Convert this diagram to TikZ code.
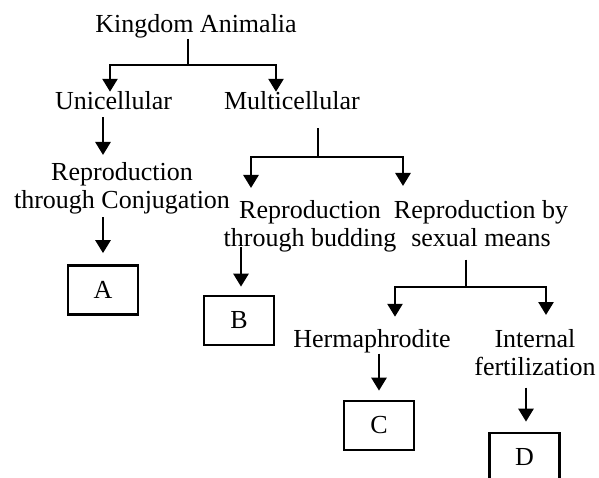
\documentclass[tikz,border=0pt]{standalone}
\usepackage{fontspec}
\setmainfont{Liberation Serif}
\usepackage{tikz}
\usetikzlibrary{positioning,arrows.meta,calc}

\begin{document}
\begin{tikzpicture}[x=1pt, y=-1pt,
  txt/.style={inner sep=0pt, align=center, font=\fontsize{26}{28}\selectfont},
  box/.style={draw, line width=2.7pt, inner sep=0pt, minimum width=70pt, minimum height=49pt, font=\fontsize{26}{28}\selectfont},
  line/.style={line width=2.7pt},
  arr/.style={line width=2.7pt, -{Triangle[length=13pt, width=15pt]}},
]
\useasboundingbox (0,0) rectangle (599,478);
\clip (0,0) rectangle (599,478);

% text nodes
\node[txt, anchor=base] (kingdom) at (196,33) {Kingdom Animalia};
\node[txt, anchor=base] (uni) at (113.5,110) {Unicellular};
\node[txt, anchor=base] (multi) at (292,110) {Multicellular};
\node[txt, anchor=north] (conj) at (122,162) {Reproduction\\through Conjugation};
\node[txt, anchor=north] (bud) at (310,200) {Reproduction\\through budding};
\node[txt, anchor=north] (sex) at (481,200) {Reproduction by\\sexual means};
\node[txt, anchor=base] (herm) at (372,347) {Hermaphrodite};
\node[txt, anchor=north] (intern) at (535,329) {Internal\\fertilization};

% boxes
\node[box] (boxA) at (103,290) {A};
\node[box] (boxB) at (239,320.5) {B};
\node[box] (boxC) at (379,425.5) {C};
\node[box] (boxD) at (524.5,457.5) {D};

% branch points
\coordinate (k1) at (188,65);
\coordinate (m1) at (318,157);
\coordinate (s1) at (466,287);

\draw[line] ([xshift=-8pt]kingdom.south) -- (k1);
\draw[arr] (k1) -| ([xshift=-3.5pt]uni.north);
\draw[arr] (k1) -| ([xshift=-16pt]multi.north);

\draw[arr, shorten <=7pt, shorten >=7pt] (uni.south -| boxA.north) -- (conj.north -| boxA.north);
\draw[arr, shorten <=3pt, shorten >=11pt] (conj.south -| boxA.north) -- (boxA.north);

\draw[line, shorten <=18pt] (multi.south -| m1) -- (m1);
\draw[arr, shorten >=12pt] (m1) -| ([xshift=-59pt]bud.north);
\draw[arr, shorten >=14pt] (m1) -| ([xshift=-78pt]sex.north);

\draw[arr, shorten <=-5pt, shorten >=8pt] ([xshift=2pt]bud.south -| boxB.north) -- ([xshift=2pt]boxB.north);

\draw[line, shorten <=13pt] (sex.south -| s1) -- (s1);
\draw[arr, shorten >=12pt] (s1) -| ([xshift=23pt]herm.north);
\draw[arr, shorten >=14pt] (s1) -| ([xshift=11pt]intern.north);

\draw[arr, shorten <=1pt, shorten >=9pt] (herm.south -| boxC.north) -- (boxC.north);
\draw[arr, shorten <=12pt, shorten >=10pt] ([xshift=1.5pt]intern.south -| boxD.north) -- ([xshift=1.5pt]boxD.north);
\end{tikzpicture}
\end{document}
